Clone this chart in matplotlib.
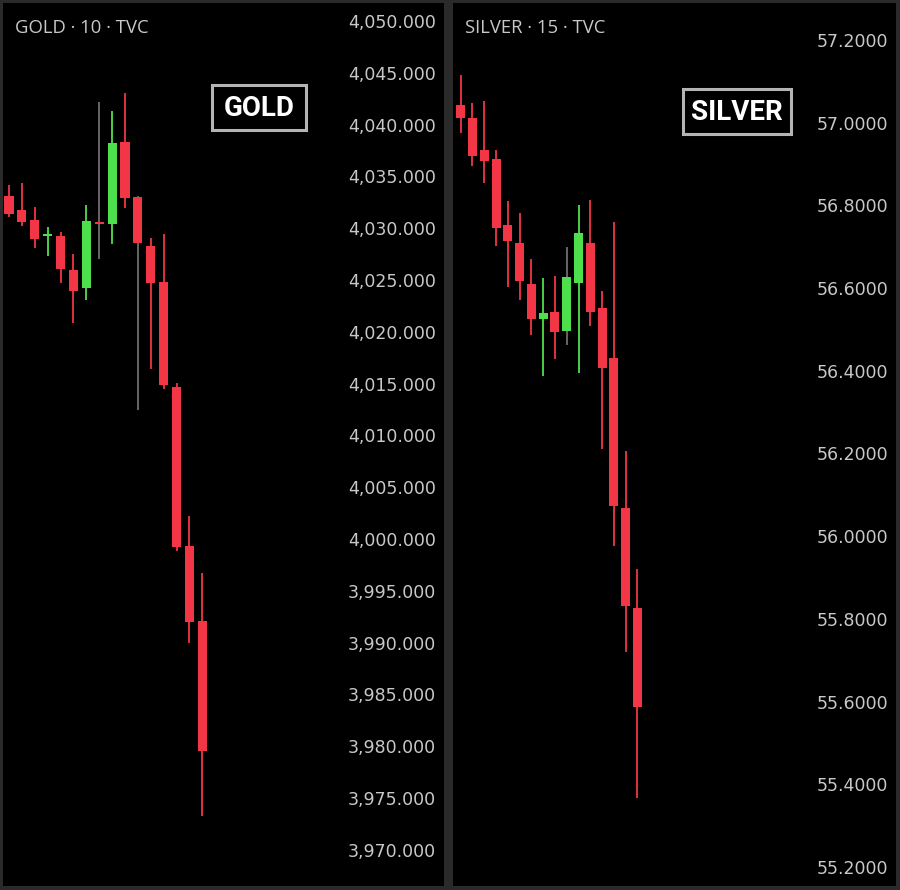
import numpy as np
import matplotlib.pyplot as plt
from matplotlib.patches import Rectangle
from matplotlib.ticker import FuncFormatter

# ---- data ----
gold_open  = [4033.10, 4031.73, 4030.79, 4029.25, 4029.28, 4025.97, 4024.20, 4030.60,
              4030.41, 4038.35, 4033.04, 4028.31, 4024.84, 4014.64, 3999.32, 3992.08]
gold_high  = [4034.17, 4034.33, 4032.08, 4030.14, 4029.66, 4027.48, 4032.24, 4042.21,
              4041.31, 4043.08, 4033.10, 4029.03, 4029.44, 4015.03, 4002.22, 3996.69]
gold_low   = [4031.10, 4030.24, 4028.12, 4027.35, 4024.68, 4020.88, 4023.07, 4027.03,
              4028.45, 4031.92, 4012.45, 4016.44, 4014.45, 3998.84, 3989.93, 3973.29]
gold_close = [4031.40, 4030.57, 4028.99, 4029.35, 4026.09, 4023.94, 4030.69, 4030.45,
              4038.25, 4032.94, 4028.60, 4024.68, 4014.84, 3999.26, 3992.02, 3979.57]
gold_gray_wick = [0, 0, 0, 0, 0, 0, 0, 1, 0, 0, 1, 0, 0, 0, 0, 0]
gold_ticks = [3970, 3975, 3980, 3985, 3990, 3995, 4000, 4005, 4010,
              4015, 4020, 4025, 4030, 4035, 4040, 4045, 4050]

silver_open  = [57.043, 57.012, 56.934, 56.912, 56.753, 56.710, 56.609, 56.526,
                56.541, 56.496, 56.613, 56.710, 56.552, 56.431, 56.069, 55.827]
silver_high  = [57.115, 57.047, 57.053, 56.934, 56.811, 56.782, 56.670, 56.624,
                56.629, 56.700, 56.801, 56.813, 56.593, 56.759, 56.206, 55.921]
silver_low   = [56.974, 56.896, 56.855, 56.703, 56.602, 56.571, 56.487, 56.387,
                56.428, 56.462, 56.395, 56.508, 56.211, 55.977, 55.719, 55.368]
silver_close = [57.012, 56.920, 56.908, 56.746, 56.714, 56.618, 56.525, 56.539,
                56.493, 56.627, 56.733, 56.543, 56.407, 56.072, 55.831, 55.587]
silver_gray_wick = [0, 0, 0, 0, 0, 0, 0, 0, 0, 1, 0, 0, 0, 0, 0, 0]
silver_ticks = [55.2, 55.4, 55.6, 55.8, 56.0, 56.2, 56.4, 56.6, 56.8, 57.0, 57.2]

RED = '#f23645'
GREEN = '#4ee04c'
GRAY = '#6e6e6e'
TXT = '#c8c8c8'

W, H = 900, 890
fig = plt.figure(figsize=(9, 8.9), dpi=100, facecolor='#2a2a2a')


def panel(x0, y0, x1, y1):
    ax = fig.add_axes([x0 / W, 1 - y1 / H, (x1 - x0) / W, (y1 - y0) / H])
    ax.set_facecolor('black')
    for s in ax.spines.values():
        s.set_visible(False)
    ax.set_xticks([])
    return ax


def candles(ax, o, h, l, c, gray, width, min_h):
    o, h, l, c = map(np.asarray, (o, h, l, c))
    x = np.arange(len(o))
    col = np.where(c >= o, GREEN, RED)
    wcol = [GRAY if g else cc for g, cc in zip(gray, col)]
    ax.vlines(x, l, h, colors=wcol, lw=1.3, zorder=2)
    body = np.maximum(np.abs(c - o), min_h)
    ax.bar(x, body, bottom=np.minimum(o, c), width=width, color=col,
           lw=0, zorder=3)


# ---- GOLD ----
ax1 = panel(3, 3, 444, 886)
candles(ax1, gold_open, gold_high, gold_low, gold_close, gold_gray_wick, 0.70, 0.15)
ax1.set_xlim(-0.465, 33.75)
ax1.set_ylim(3966.51, 4051.74)
ax1.set_yticks(gold_ticks)
ax1.yaxis.tick_right()
ax1.yaxis.set_major_formatter(FuncFormatter(lambda v, p: f'{v:,.3f}'))
ax1.tick_params(axis='y', length=0, pad=-69, labelsize=12.5, labelcolor=TXT)

# ---- SILVER ----
ax2 = panel(453, 3, 896, 886)
candles(ax2, silver_open, silver_high, silver_low, silver_close, silver_gray_wick, 0.76, 0.004)
ax2.set_xlim(-0.654, 36.95)
ax2.set_ylim(55.154, 57.2895)
ax2.set_yticks(silver_ticks)
ax2.yaxis.tick_right()
ax2.yaxis.set_major_formatter(FuncFormatter(lambda v, p: f'{v:.4f}'))
ax2.tick_params(axis='y', length=0, pad=-57, labelsize=12.5, labelcolor=TXT)

# headers
fig.text(15 / W, 1 - 28 / H, 'GOLD · 10 · TVC', color=TXT, fontsize=13.3,
         family='Open Sans', va='center', ha='left')
fig.text(465 / W, 1 - 28 / H, 'SILVER · 15 · TVC', color=TXT, fontsize=13.3,
         family='Open Sans', va='center', ha='left')

# boxed labels
for (bx0, by0, bx1, by1), name in [((212, 85, 306, 130), 'GOLD'),
                                   ((683, 89, 791, 134), 'SILVER')]:
    fig.patches.append(Rectangle((bx0 / W, 1 - by1 / H), (bx1 - bx0) / W, (by1 - by0) / H,
                                 transform=fig.transFigure, facecolor='black',
                                 edgecolor='#b4b4b4', lw=2.2, zorder=5))
    fig.text((bx0 + bx1) / 2 / W, 1 - ((by0 + by1) / 2 + 1) / H, name, color='white',
             fontsize=20, family='Roboto', weight='bold', ha='center', va='center',
             zorder=6)

fig.savefig('out.png', dpi=100, facecolor=fig.get_facecolor())
